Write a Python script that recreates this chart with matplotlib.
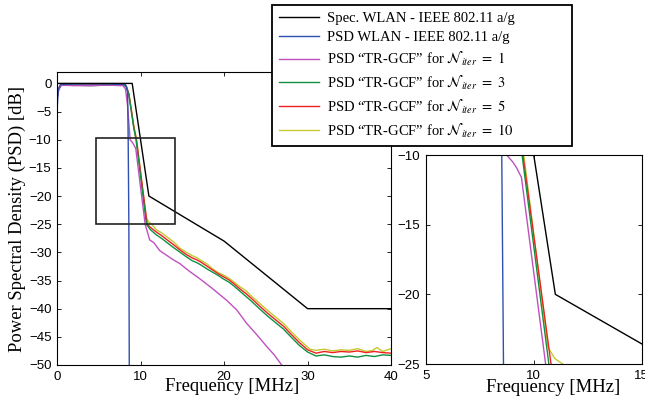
import numpy as np
from matplotlib import pyplot as plt
from matplotlib.patches import Rectangle

plt.rcParams['mathtext.fontset'] = 'stix'
plt.rcParams['xtick.direction'] = 'in'
plt.rcParams['ytick.direction'] = 'in'

## Data (frequency in MHz, PSD in dB)
spec_f = [0, 9, 11, 20, 30, 40]
spec_p = [0, 0, -20, -28, -40, -40]

wlan_f = [0, 0.15, 0.4, 2, 4, 6, 8.2, 8.45, 8.52, 8.6, 8.65]
wlan_p = [-5, -1, -0.2, -0.1, -0.1, -0.1, -0.2, -1.5, -10, -25, -50]

n1_f = [0, 0.2, 0.5, 2, 4, 6, 7.9, 8.2, 8.45, 8.65, 8.75, 9.03, 9.2, 9.43, 10.55, 11.1, 11.6,
        12.3, 13.0, 13.9, 14.7, 15.8, 17.1, 18.5, 20.3, 21.5, 22.7, 23.9, 25.1, 26.0, 26.9, 27.5]
n1_p = [-3, -1.2, -0.3, -0.4, -0.4, -0.3, -0.4, -1.0, -4, -8, -10, -10.5, -10.9, -11.6, -25, -27.8, -28.3,
        -29.7, -30.4, -31.3, -32.0, -33.3, -34.7, -36.3, -38.5, -40.2, -42.6, -44.6, -46.7, -48.2, -50, -51]

n3_f = [0, 0.2, 0.5, 2, 4, 6, 8.0, 8.3, 8.6, 8.9, 9.2, 9.46, 10.7, 11.2, 11.9, 12.5, 13.2, 14.0,
        14.75, 15.5, 16.2, 16.7, 17.3, 17.9, 18.6, 19.3, 19.9, 20.6, 21.2, 21.9, 22.6, 23.3, 24.3,
        25.2, 26.1, 27.1, 28.0, 29.0, 30.0, 31.0, 32.0, 33.0, 34.0, 35.0, 36.0, 37.0, 38.0, 39.0, 40.0]
n3_p = [-2.5, -1.0, -0.3, -0.3, -0.4, -0.3, -0.3, -0.6, -2.0, -5.0, -8.0, -10, -25, -26.0, -26.9, -27.5,
        -28.3, -29.2, -30.0, -30.8, -31.5, -31.8, -32.3, -32.9, -33.5, -34.1, -34.7, -35.3, -36.0, -36.9,
        -37.8, -38.7, -40.1, -41.3, -42.4, -43.6, -45.0, -46.5, -47.7, -48.4, -48.2, -48.5, -48.6, -48.4,
        -48.6, -48.3, -48.5, -48.2, -48.3]

n5_f = [0, 0.2, 0.5, 2, 4, 6, 8.0, 8.3, 8.6, 8.9, 9.2, 9.5, 10.8, 11.2, 11.9, 12.5, 13.2, 14.0,
        14.75, 15.5, 16.2, 16.7, 17.3, 17.9, 18.6, 19.3, 19.9, 20.6, 21.2, 21.9, 22.6, 23.3, 24.3,
        25.2, 26.1, 27.1, 28.0, 29.0, 30.0, 31.0, 32.0, 33.0, 34.0, 35.0, 36.0, 37.0, 38.0, 39.0, 40.0]
n5_p = [-2.5, -1.0, -0.3, -0.3, -0.3, -0.3, -0.3, -0.5, -1.9, -4.8, -7.8, -10, -25, -25.6, -26.4, -27.0,
        -27.8, -28.7, -29.6, -30.4, -31.0, -31.3, -31.8, -32.4, -33.1, -33.8, -34.3, -34.9, -35.6, -36.5,
        -37.3, -38.2, -39.6, -40.8, -41.9, -43.1, -44.5, -46.0, -47.3, -47.9, -47.6, -47.8, -47.6, -47.7,
        -47.5, -47.8, -47.6, -47.8, -47.9]

n10_f = [0, 0.2, 0.5, 2, 4, 6, 8.0, 8.3, 8.6, 8.9, 9.2, 9.54, 10.66, 10.97, 11.34, 11.9, 12.5, 13.2,
         14.0, 14.75, 15.5, 16.2, 16.7, 17.3, 17.9, 18.6, 19.3, 19.9, 20.6, 21.2, 21.9, 22.6, 23.3,
         24.3, 25.2, 26.1, 27.1, 28.0, 29.0, 30.3, 31.0, 32.0, 33.0, 34.0, 35.0, 36.0, 37.0, 37.8,
         38.3, 39.0, 40.0]
n10_p = [-2.5, -1.0, -0.3, -0.3, -0.3, -0.3, -0.3, -0.5, -1.8, -4.6, -7.6, -10, -23.8, -24.6, -25.0,
         -26.0, -26.5, -27.3, -28.2, -29.3, -30.0, -30.6, -30.9, -31.5, -32.0, -32.9, -33.6, -34.0,
         -34.6, -35.3, -36.1, -36.8, -37.8, -39.1, -40.3, -41.4, -42.6, -44.0, -45.5, -47.2, -47.4,
         -47.2, -47.5, -47.3, -47.4, -47.1, -47.6, -47.4, -46.9, -47.6, -47.1]

labels = ['Spec. WLAN - IEEE 802.11 a/g',
          'PSD WLAN - IEEE 802.11 a/g',
          'PSD \u201cTR-GCF\u201d for $\\mathcal{N}_{iter}\\ =\\ 1$',
          'PSD \u201cTR-GCF\u201d for $\\mathcal{N}_{iter}\\ =\\ 3$',
          'PSD \u201cTR-GCF\u201d for $\\mathcal{N}_{iter}\\ =\\ 5$',
          'PSD \u201cTR-GCF\u201d for $\\mathcal{N}_{iter}\\ =\\ 10$']

series = [(spec_f, spec_p, 'black'),
          (wlan_f, wlan_p, '#3050b0'),
          (n1_f, n1_p, '#c050c0'),
          (n3_f, n3_p, '#109040'),
          (n5_f, n5_p, '#f02020'),
          (n10_f, n10_p, '#c8c830')]

serif = 'Liberation Serif'
sans = 'Liberation Sans'

fig = plt.figure(figsize=(6.45, 4.09), dpi=100)
ax = fig.add_axes([0.0884, 0.1076, 0.518, 0.716])
axi = fig.add_axes([0.660, 0.110, 0.335, 0.511])

handles = []
for a in (ax, axi):
    for f, p, c in series[::-1]:
        h, = a.plot(f, p, color=c, lw=1)
        if a is ax:
            handles.append(h)
handles = handles[::-1]

ax.set_xlim(0, 40)
ax.set_ylim(-50, 2)
ax.set_xticks([0, 10, 20, 30, 40])
ax.set_yticks(np.arange(-50, 1, 5))
ax.add_patch(Rectangle((4.7, -25), 9.4, 15.3, fill=False, ec='#222222', lw=1.2, zorder=5))
ax.set_ylabel('Power Spectral Density (PSD) [dB]', family=serif, fontsize=13.4)
ax.yaxis.set_label_coords(-0.094, 0.5)
ax.set_xlabel('Frequency [MHz]', family=serif, fontsize=13.4)
ax.xaxis.set_label_coords(0.525, -0.073)
ax.xaxis.label.set_va('center')

axi.set_xlim(5, 15)
axi.set_ylim(-25, -10)
axi.set_xticks([5, 10, 15])
axi.set_yticks([-25, -20, -15, -10])
axi.set_xlabel('Frequency [MHz]', family=serif, fontsize=13.4)
axi.xaxis.set_label_coords(0.59, -0.112)
axi.xaxis.label.set_va('center')

for a in (ax, axi):
    a.tick_params(top=True, right=True, length=3, width=0.6, labelsize=9.5, pad=4)
    for t in a.get_xticklabels() + a.get_yticklabels():
        t.set_family(sans)
    for s in a.spines.values():
        s.set_linewidth(0.8)

leg = fig.legend(handles, labels, loc='upper left',
                 bbox_to_anchor=(0.4217, 0.643, 0.4651, 0.3448), mode='expand',
                 prop={'family': serif, 'size': 10.5}, fancybox=False, framealpha=1,
                 edgecolor='black', handlelength=2.75, handletextpad=0.6, labelspacing=0.4,
                 borderpad=0.45, borderaxespad=0)
leg.get_frame().set_linewidth(1.3)

fig.savefig('out.png', dpi=100)
